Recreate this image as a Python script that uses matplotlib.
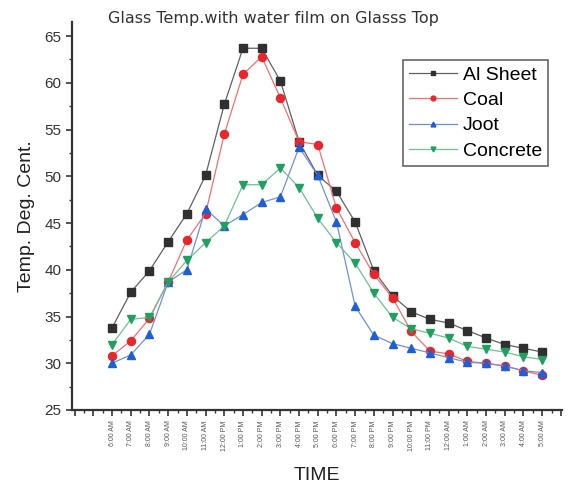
import numpy as np
import matplotlib
matplotlib.use("Agg")
import matplotlib.pyplot as plt

hours = ["6:00 AM", "7:00 AM", "8:00 AM", "9:00 AM", "10:00 AM", "11:00 AM",
         "12:00 PM", "1:00 PM", "2:00 PM", "3:00 PM", "4:00 PM", "5:00 PM",
         "6:00 PM", "7:00 PM", "8:00 PM", "9:00 PM", "10:00 PM", "11:00 PM",
         "12:00 AM", "1:00 AM", "2:00 AM", "3:00 AM", "4:00 AM", "5:00 AM"]

al_sheet = [33.8, 37.6, 39.9, 43.0, 46.0, 50.1, 57.7, 63.7, 63.7, 60.2, 53.7, 50.1,
            48.4, 45.1, 39.9, 37.2, 35.5, 34.7, 34.3, 33.5, 32.7, 32.0, 31.6, 31.2]
coal = [30.8, 32.4, 34.8, 38.7, 43.2, 46.0, 54.5, 60.9, 62.8, 58.4, 53.7, 53.4,
        46.6, 42.9, 39.5, 37.0, 33.4, 31.3, 31.0, 30.2, 30.0, 29.7, 29.2, 28.7]
joot = [30.0, 30.9, 33.1, 38.7, 40.0, 46.5, 44.7, 45.9, 47.2, 47.8, 53.1, 50.1,
        45.1, 36.1, 33.0, 32.1, 31.6, 31.1, 30.6, 30.1, 30.0, 29.7, 29.2, 29.0]
concrete = [32.0, 34.7, 34.9, 38.7, 41.0, 42.9, 44.7, 49.1, 49.1, 50.9, 48.8, 45.5,
            42.9, 40.7, 37.5, 34.9, 33.7, 33.2, 32.7, 31.8, 31.5, 31.2, 30.7, 30.4]

series = [("Al Sheet", al_sheet, "s", "#303030", "#606060"),
          ("Coal", coal, "o", "#e8262b", "#f07070"),
          ("Joot", joot, "^", "#1f5fd6", "#6f8fe0"),
          ("Concrete", concrete, "v", "#20a060", "#70c090")]

plt.rcParams["font.family"] = ["Liberation Sans", "DejaVu Sans"]

fig = plt.figure(figsize=(5.86, 4.91), dpi=100)
ax = fig.add_axes([0.123, 0.165, 0.836, 0.79])
x = np.arange(len(hours))
for name, vals, mk, col, lcol in series:
    ax.plot(x, vals, color=lcol, lw=0.9, marker=mk, markersize=5.8,
            markerfacecolor=col, markeredgecolor=col, label=name)

ax.set_xlim(-2.14, 24.06)
ax.set_ylim(25, 66.5)
ax.set_yticks(np.arange(25, 66, 5))
ax.set_yticks(np.arange(27.5, 66, 5), minor=True)
maj = np.arange(-2, 25)
ax.set_xticks(maj)
ax.set_xticklabels(["" if (i < 0 or i > 23) else hours[i] for i in maj],
                   rotation=90, fontsize=5, color="#555555")
ax.set_xticks(np.arange(-1.5, 24.1, 1), minor=True)

for s in ("top", "right"):
    ax.spines[s].set_visible(False)
for s in ("left", "bottom"):
    ax.spines[s].set_linewidth(1.6)
    ax.spines[s].set_color("#333333")
ax.tick_params(axis="both", which="major", direction="out", length=4, width=1.2,
               color="#333333")
ax.tick_params(axis="both", which="minor", direction="out", length=2.5, width=1.0,
               color="#333333")
ax.tick_params(axis="y", labelsize=11, labelcolor="#333333")

ax.set_ylabel("Temp. Deg. Cent.", fontsize=14, color="#222222", labelpad=7)
ax.set_xlabel("TIME", fontsize=14, color="#222222", labelpad=12)
fig.text(0.184, 0.963, "Glass Temp.with water film on Glasss Top", fontsize=11.5,
         color="#333333", va="center", family="DejaVu Sans")

leg = ax.legend(loc="upper left", bbox_to_anchor=(0.675, 0.902), fontsize=14,
                handlelength=2.5, markerscale=0.6, borderpad=0.3,
                labelspacing=0.4, handletextpad=0.3, borderaxespad=0,
                fancybox=False, framealpha=1)
leg.get_frame().set_edgecolor("#666666")
leg.get_frame().set_linewidth(1.2)

fig.savefig("out.png", dpi=100)
